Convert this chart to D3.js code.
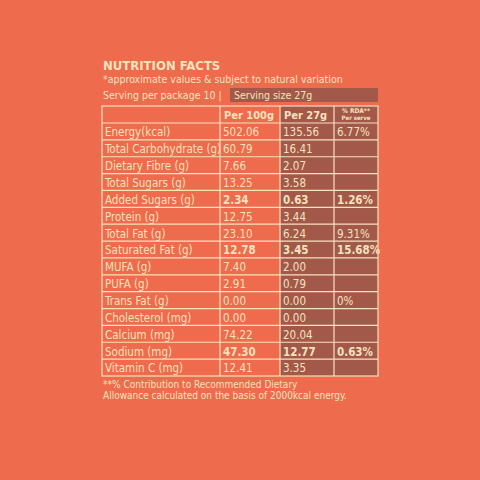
<!DOCTYPE html>
<html><head><meta charset="utf-8">
<script src="https://cdn.jsdelivr.net/npm/d3@7"></script>
<style>body{margin:0;background:#ee6b4d}</style>
</head><body>
<svg id="c" width="480" height="480"></svg>
<script>
const nutrients = ['Energy(kcal)','Total Carbohydrate (g)','Dietary Fibre (g)','Total Sugars (g)','Added Sugars (g)','Protein (g)','Total Fat (g)','Saturated Fat (g)','MUFA (g)','PUFA (g)','Trans Fat (g)','Cholesterol (mg)','Calcium (mg)','Sodium (mg)','Vitamin C (mg)']
const per100 = ['502.06','60.79','7.66','13.25','2.34','12.75','23.10','12.78','7.40','2.91','0.00','0.00','74.22','47.30','12.41']
const per27 = ['135.56','16.41','2.07','3.58','0.63','3.44','6.24','3.45','2.00','0.79','0.00','0.00','20.04','12.77','3.35']
const rda = ['6.77%','','','','1.26%','','9.31%','15.68%','','','0%','','','0.63%','']
const boldRows = ['Added Sugars (g)','Saturated Fat (g)','Sodium (mg)']

const bg = '#ee6b4d', cream = '#f6e2bd', dark = '#a2594a'
const font = 'DejaVu Sans Condensed, DejaVu Sans, sans-serif'
const svg = d3.select('#c')
svg.append('rect').attr('width',480).attr('height',480).attr('fill',bg)

svg.append('text').attr('x',103).attr('y',70).text('NUTRITION FACTS')
    .attr('fill',cream).attr('font-family',font).attr('font-weight','bold').attr('font-size',13)
svg.append('text').attr('x',103).attr('y',83).text('*approximate values & subject to natural variation')
    .attr('fill',cream).attr('font-family',font).attr('font-size',10.5)
svg.append('rect').attr('x',230).attr('y',88).attr('width',148).attr('height',14).attr('fill',dark)
svg.append('text').attr('x',103).attr('y',99).text('Serving per package 10  |')
    .attr('fill',cream).attr('font-family',font).attr('font-size',10.5)
svg.append('text').attr('x',234).attr('y',99).text('Serving size 27g')
    .attr('fill',cream).attr('font-family',font).attr('font-size',10.5)

const colX = [102,220,280,334,378]
const tableTop = 106, headH = 17, tableBottom = 376
const y = d3.scaleBand().domain(nutrients).range([tableTop+headH, tableBottom])

const g = svg.append('g')
// dark columns
g.append('rect').attr('x',280).attr('y',tableTop).attr('width',98).attr('height',tableBottom-tableTop).attr('fill',dark)

// header
const heads = ['','Per 100g','Per 27g']
heads.forEach((h,i) => {
    g.append('text').attr('x',colX[i]+4).attr('y',tableTop+13).text(h)
        .attr('fill',cream).attr('font-family',font).attr('font-weight','bold').attr('font-size',11)
})
g.append('text').attr('x',356).attr('y',tableTop+7).attr('text-anchor','middle').text('% RDA**')
    .attr('fill',cream).attr('font-family',font).attr('font-weight','bold').attr('font-size',6.5)
g.append('text').attr('x',356).attr('y',tableTop+14).attr('text-anchor','middle').text('Per serve')
    .attr('fill',cream).attr('font-family',font).attr('font-weight','bold').attr('font-size',6)

const rows = g.selectAll('g.row').data(nutrients).join('g').attr('class','row')
    .attr('transform', d => `translate(0,${y(d)})`)
const cols = [nutrients, per100, per27, rda]
cols.forEach((arr,ci) => {
    rows.append('text').attr('x',colX[ci]+3).attr('y',y.bandwidth()-3.5)
        .text((d,i) => arr[i])
        .attr('fill',cream).attr('font-family',font).attr('font-size',11.5)
        .attr('font-weight',d => (ci>0 && boldRows.includes(d)) ? 'bold' : 'normal')
})

// grid
const lines = g.append('g').attr('stroke',cream).attr('stroke-width',1.2).attr('fill','none')
lines.append('rect').attr('x',102).attr('y',tableTop).attr('width',276).attr('height',tableBottom-tableTop)
colX.slice(1,4).forEach(x => lines.append('line').attr('x1',x).attr('x2',x).attr('y1',tableTop).attr('y2',tableBottom))
nutrients.forEach(d => lines.append('line').attr('x1',102).attr('x2',378).attr('y1',y(d)).attr('y2',y(d)))

svg.append('text').attr('x',103).attr('y',388).text('**% Contribution to Recommended Dietary')
    .attr('fill',cream).attr('font-family',font).attr('font-size',10)
svg.append('text').attr('x',103).attr('y',399).text('Allowance calculated on the basis of 2000kcal energy.')
    .attr('fill',cream).attr('font-family',font).attr('font-size',10)
</script>
</body></html>
